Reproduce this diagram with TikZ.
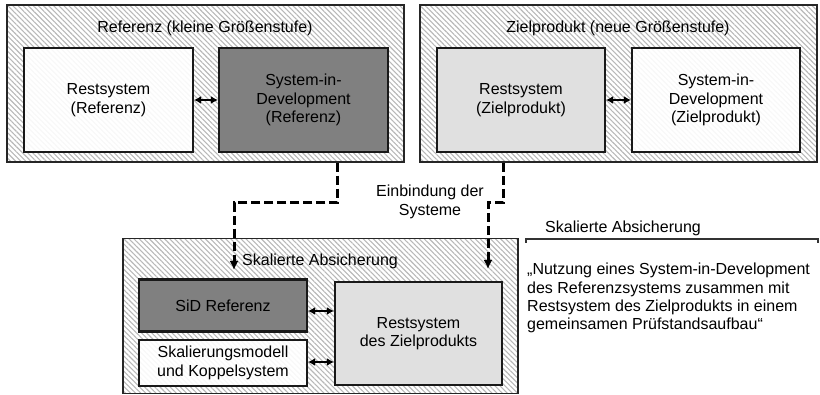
\documentclass[tikz,border=0pt]{standalone}
\usepackage{fontspec}
\setmainfont{Liberation Sans}
\usetikzlibrary{patterns.meta,arrows.meta}
\begin{document}
\begin{tikzpicture}[x=1pt,y=-1pt,
  font=\fontsize{16}{18.4}\selectfont,
  hatched/.style={draw=black!85, line width=1.8pt,
    pattern={Lines[angle=-45,distance=3.6pt,line width=1.1pt]}, pattern color=black!28},
  block/.style={draw=black!90, line width=2.2pt, align=center, inner sep=0pt},
  whitebox/.style={block, fill=white, fill opacity=0.9, text opacity=1},
  darkbox/.style={block, fill=black!50},
  lightbox/.style={block, fill=black!12},
  link/.style={line width=2.4pt, {Latex[length=7pt,width=8pt]}-{Latex[length=7pt,width=8pt]}},
  flow/.style={line width=3pt, dash pattern=on 9pt off 4pt, -{Latex[length=9pt,width=9pt]}}
]
\useasboundingbox (0,0) rectangle (820,395);

% group: reference product
\node[hatched, minimum width=397pt, minimum height=157pt] (grpRef) at (205.5,83.5) {};
\node (tRef) at (205,28) {Referenz (kleine Größenstufe)};
\node[whitebox, minimum width=169pt, minimum height=104pt] (restRef) at (108.5,100) {Restsystem\\(Referenz)};
\node[darkbox, minimum width=169pt, minimum height=104pt] (sidRef) at (303.5,100) {System-in-\\Development\\(Referenz)};
\draw[link] (restRef) -- (sidRef);

% group: target product
\node[hatched, minimum width=397pt, minimum height=157pt] (grpZiel) at (618.5,83.5) {};
\node (tZiel) at (618,28) {Zielprodukt (neue Größenstufe)};
\node[lightbox, minimum width=168pt, minimum height=104pt] (restZiel) at (521,100) {Restsystem\\(Zielprodukt)};
\node[whitebox, minimum width=168pt, minimum height=104pt] (sidZiel) at (716,100) {System-in-\\Development\\(Zielprodukt)};
\draw[link] (restZiel) -- (sidZiel);

% group: scaled validation
\node[hatched, minimum width=395pt, minimum height=155pt] (grpSkal) at (320.5,316) {};
\node[anchor=west, inner sep=0pt] (tSkal) at (242,261) {Skalierte Absicherung};
\node[darkbox, minimum width=168pt, minimum height=52pt] (sidSkal) at (223,305.5) {SiD Referenz};
\node[whitebox, minimum width=168pt, minimum height=46pt] (modSkal) at (223,363) {Skalierungsmodell\\und Koppelsystem};
\node[lightbox, minimum width=167pt, minimum height=103pt] (restSkal) at (418.5,333.5) {Restsystem\\des Zielprodukts};
\draw[link] (sidSkal.east |- 0,311) -- (restSkal.west |- 0,311);
\draw[link] (modSkal.east |- 0,362) -- (restSkal.west |- 0,362);

% integration paths
\coordinate (inL) at (234,270);
\coordinate (inR) at (488,269);
\draw[flow] (grpRef.south -| 337,0) -- (337,203) -- (234,203) -- (inL);
\draw[flow] (grpZiel.south -| 503,0) -- (503,203) -- (488,203) -- (inR);
\node[align=center, inner sep=0pt] (einb) at (430,202) {Einbindung der\\Systeme};

% description
\node[anchor=west, inner sep=0pt] (dHead) at (545,228) {Skalierte Absicherung};
\coordinate (brL) at (526,243);
\coordinate (brR) at (818,243);
\draw[line width=1.2pt, black!80] (brL) -- ++(0,-4) -| (brR);
\node[anchor=north west, align=left, inner sep=0pt] (dText) at (527,263)
  {„Nutzung eines System-in-Development\\des Referenzsystems zusammen mit\\Restsystem des Zielprodukts in einem\\gemeinsamen Prüfstandsaufbau“};
\end{tikzpicture}
\end{document}
